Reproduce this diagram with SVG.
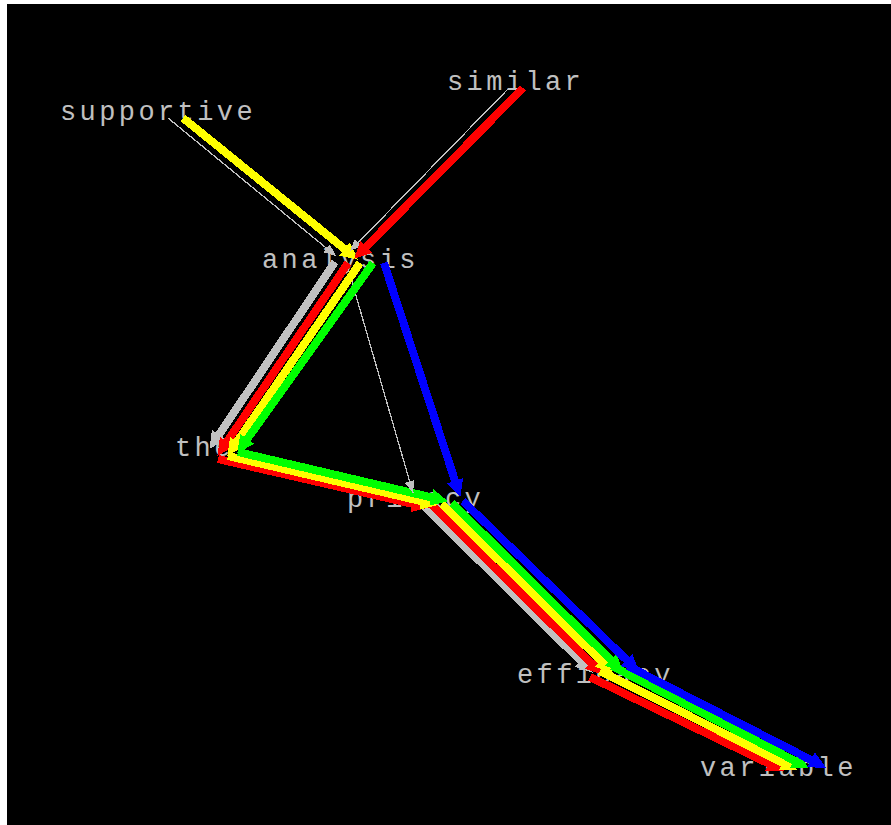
<svg xmlns="http://www.w3.org/2000/svg" width="891" height="825" viewBox="0 0 891 825">
<style>
.lbl{font-family:"Liberation Mono","DejaVu Sans Mono",monospace;font-size:27px;letter-spacing:3.4px;fill:#c0c0c0}
.e{fill:none;stroke-linecap:butt;shape-rendering:crispEdges}
marker path{shape-rendering:crispEdges}
.thin{stroke:#c0c0c0;stroke-width:1.3}
.w{stroke-width:8}
.gy{stroke:#c0c0c0}.rd{stroke:#ff0000}.ye{stroke:#ffff00}.gn{stroke:#00ff00}.bl{stroke:#0000ff}
</style>
<defs>
<marker id="mGy" viewBox="0 0 16 16" markerWidth="17" markerHeight="17" markerUnits="userSpaceOnUse" refX="7.5" refY="8" orient="auto"><path d="M0,0 L16,8 L0,16 z" fill="#c0c0c0"/></marker>
<marker id="mRd" viewBox="0 0 16 16" markerWidth="17" markerHeight="17" markerUnits="userSpaceOnUse" refX="7.5" refY="8" orient="auto"><path d="M0,0 L16,8 L0,16 z" fill="#ff0000"/></marker>
<marker id="mYe" viewBox="0 0 16 16" markerWidth="17" markerHeight="17" markerUnits="userSpaceOnUse" refX="7.5" refY="8" orient="auto"><path d="M0,0 L16,8 L0,16 z" fill="#ffff00"/></marker>
<marker id="mGn" viewBox="0 0 16 16" markerWidth="17" markerHeight="17" markerUnits="userSpaceOnUse" refX="7.5" refY="8" orient="auto"><path d="M0,0 L16,8 L0,16 z" fill="#00ff00"/></marker>
<marker id="mBl" viewBox="0 0 16 16" markerWidth="17" markerHeight="17" markerUnits="userSpaceOnUse" refX="7.5" refY="8" orient="auto"><path d="M0,0 L16,8 L0,16 z" fill="#0000ff"/></marker>
<marker id="mThin" viewBox="0 0 12 10" markerWidth="12" markerHeight="10" markerUnits="userSpaceOnUse" refX="12" refY="5" orient="auto"><path d="M0,0 L12,5 L0,10 z" fill="#c0c0c0"/></marker>
</defs>
<rect x="0" y="0" width="891" height="825" fill="#ffffff"/>
<rect x="7" y="4" width="884" height="821" fill="#000000"/>
<g id="node-supportive"><text class="lbl" x="60" y="120">supportive</text></g>
<g id="node-similar"><text class="lbl" x="447" y="90">similar</text></g>
<g id="node-analysis"><text class="lbl" x="262" y="268">analysis</text></g>
<g id="node-the"><text class="lbl" x="175" y="456">the</text></g>
<g id="node-privacy"><text class="lbl" x="347" y="507">privacy</text></g>
<g id="node-efficacy"><text class="lbl" x="517" y="683">efficacy</text></g>
<g id="node-variable"><text class="lbl" x="700" y="776">variable</text></g>
<g id="connectors">
<line class="e w gy" x1="423" y1="505" x2="586.3" y2="666.4" marker-end="url(#mGy)"/>
<line class="e w rd" x1="432" y1="505" x2="596.3" y2="668.4" marker-end="url(#mRd)"/>
<line class="e w ye" x1="442" y1="504" x2="606.3" y2="666.4" marker-end="url(#mYe)"/>
<line class="e w gn" x1="452" y1="503" x2="616.3" y2="665.4" marker-end="url(#mGn)"/>
<line class="e w bl" x1="463" y1="501" x2="632.3" y2="665.4" marker-end="url(#mBl)"/>
<line class="e w rd" x1="590" y1="677" x2="775.8" y2="767" marker-end="url(#mRd)"/>
<line class="e w ye" x1="600" y1="671" x2="789.9" y2="766.4" marker-end="url(#mYe)"/>
<line class="e w gn" x1="612" y1="666" x2="800.9" y2="764" marker-end="url(#mGn)"/>
<line class="e w bl" x1="628" y1="666" x2="818" y2="763.5" marker-end="url(#mBl)"/>
<line class="e w rd" x1="218" y1="459" x2="420.2" y2="505.6" marker-end="url(#mRd)"/>
<line class="e w ye" x1="228" y1="456" x2="429.2" y2="503" marker-end="url(#mYe)"/>
<line class="e w gn" x1="238" y1="452" x2="439.2" y2="499.2" marker-end="url(#mGn)"/>
<line class="e thin" x1="348" y1="268" x2="413" y2="493" marker-end="url(#mThin)"/>
<line class="e w gy" x1="335" y1="262" x2="214.5" y2="441.4" marker-end="url(#mGy)"/>
<line class="e w rd" x1="348" y1="263" x2="222.5" y2="448.4" marker-end="url(#mRd)"/>
<line class="e w ye" x1="360" y1="263" x2="232.5" y2="448.4" marker-end="url(#mYe)"/>
<line class="e w gn" x1="373" y1="263" x2="242.6" y2="445.5" marker-end="url(#mGn)"/>
<line class="e thin" x1="168" y1="118" x2="336" y2="256" marker-end="url(#mThin)"/>
<line class="e w ye" x1="183" y1="118" x2="350.8" y2="254" marker-end="url(#mYe)"/>
<line class="e thin" x1="508" y1="89" x2="350" y2="251" marker-end="url(#mThin)"/>
<line class="e w rd" x1="523" y1="88" x2="360.6" y2="252.3" marker-end="url(#mRd)"/>
<line class="e w bl" x1="384" y1="263" x2="457.5" y2="488.4" marker-end="url(#mBl)"/>
</g>
</svg>
